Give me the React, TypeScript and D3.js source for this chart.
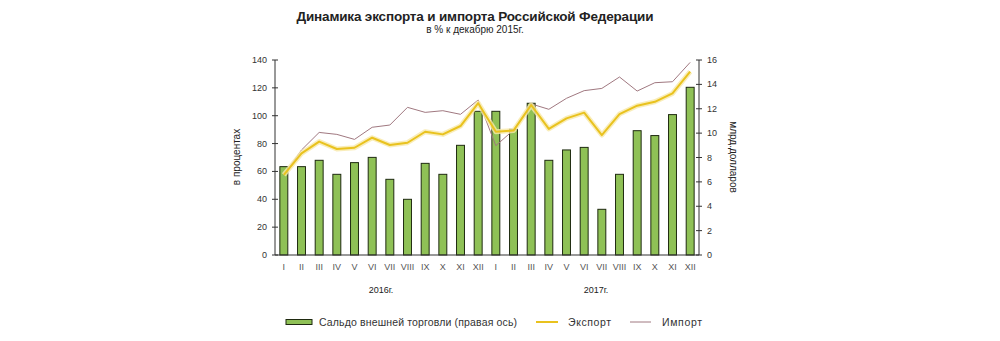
import React from "react";
import * as d3 from "d3";

const months = ["I","II","III","IV","V","VI","VII","VIII","IX","X","XI","XII","I","II","III","IV","V","VI","VII","VIII","IX","X","XI","XII"];
const years = ["2016г.", "2017г."];
const balance = [7.25,7.25,7.77,6.62,7.58,8.01,6.21,4.57,7.52,6.62,9.0,11.79,11.79,10.31,12.45,7.77,8.62,8.83,3.75,6.62,10.2,9.8,11.52,13.76];
const exportVals = [57.5,73,81.4,76.1,77,84.2,79,80.6,88.5,86.6,92.6,109,88.5,89.3,107.7,90.5,98.1,102.2,86.1,101.2,107.2,110,116,131.6];
const importVals = [57.5,75.4,88,86.6,83,91.7,93.3,106,102.4,103.6,101,111.3,78.5,89.7,108.5,104.6,112.5,118,119.6,127.8,117.7,123.7,124.4,138.3];
const leftTicks = [0,20,40,60,80,100,120,140];
const rightTicks = [0,2,4,6,8,10,12,14,16];

const FONT = "'Liberation Sans', Arial, sans-serif";

export default function App() {
  const W = 1000, H = 341;
  const x0 = 275, x1 = 699, yTop = 60, yBot = 255;
  const idx = months.map((_, i) => i);
  const x = d3.scaleBand<number>().domain(idx).range([x0, x1]).paddingInner(0.55).paddingOuter(0.275);
  const step = (x1 - x0) / months.length;
  const cx = (i: number) => (x(i) as number) + x.bandwidth() / 2;
  const yL = d3.scaleLinear().domain([0, 140]).range([yBot, yTop]);
  const yR = d3.scaleLinear().domain([0, 16]).range([yBot, yTop]);
  const lineL = d3.line<number>().x((_, i) => cx(i)).y((d) => yL(d));
  const axisColor = "#333";

  return (
    <svg width={W} height={H} style={{ position: "absolute", left: 0, top: 0, background: "#fff" }} fontFamily={FONT}>
      <text x={475} y={21} textAnchor="middle" fontSize={13.5} fontWeight="bold" fill="#222" textLength={357} lengthAdjust="spacing">Динамика экспорта и импорта Российской Федерации</text>
      <text x={475} y={33} textAnchor="middle" fontSize={10} fill="#222">в % к декабрю 2015г.</text>

      {/* bars */}
      {balance.map((v, i) => (
        <rect key={i} x={x(i)} y={yR(v)} width={x.bandwidth()} height={yBot - yR(v)}
          fill="#8fc156" stroke="#1f2a10" strokeWidth={1} />
      ))}

      {/* import line */}
      <path d={lineL(importVals) || ""} fill="none" stroke="#a07880" strokeWidth={1} />
      {/* export line with glow */}
      <path d={lineL(exportVals) || ""} fill="none" stroke="#f7e8a8" strokeWidth={5} strokeLinejoin="round" opacity={0.8} />
      <path d={lineL(exportVals) || ""} fill="none" stroke="#e9c21e" strokeWidth={2} strokeLinejoin="round" />

      {/* left axis */}
      <line x1={x0} x2={x0} y1={yTop} y2={yBot} stroke={axisColor} />
      {leftTicks.map((t) => (
        <g key={t}>
          <line x1={x0 - 3} x2={x0 + 3} y1={yL(t)} y2={yL(t)} stroke={axisColor} />
          <text x={x0 - 8} y={yL(t) + 3} textAnchor="end" fontSize={9} fill="#333">{t}</text>
        </g>
      ))}
      {/* right axis */}
      <line x1={x1} x2={x1} y1={yTop} y2={yBot} stroke={axisColor} />
      {rightTicks.map((t) => (
        <g key={t}>
          <line x1={x1 - 3} x2={x1 + 3} y1={yR(t)} y2={yR(t)} stroke={axisColor} />
          <text x={x1 + 8} y={yR(t) + 3} textAnchor="start" fontSize={9} fill="#333">{t}</text>
        </g>
      ))}
      {/* bottom axis */}
      <line x1={x0} x2={x1} y1={yBot} y2={yBot} stroke={axisColor} />
      {months.map((m, i) => (
        <text key={i} x={cx(i)} y={270} textAnchor="middle" fontSize={9} fill="#555">{m}</text>
      ))}
      {years.map((yv, k) => (
        <text key={yv} x={x0 + step * (6 + 12 * k) + (k === 0 ? 0 : 3)} y={293} textAnchor="middle" fontSize={9} fill="#222">{yv}</text>
      ))}

      <text transform={`translate(240,157) rotate(-90)`} textAnchor="middle" fontSize={10} fill="#222">в процентах</text>
      <text transform={`translate(730,157) rotate(90)`} textAnchor="middle" fontSize={10} fill="#222">млрд.долларов</text>

      {/* legend */}
      <rect x={286} y={319.5} width={26} height={5} fill="#8fc156" stroke="#1f2a10" strokeWidth={1} />
      <text x={319} y={326} fontSize={10.5} fill="#333" textLength={198} lengthAdjust="spacing">Сальдо внешней торговли (правая ось)</text>
      <line x1={536} x2={558} y1={322} y2={322} stroke="#e9c21e" strokeWidth={2} />
      <text x={568} y={326} fontSize={10.5} fill="#333" textLength={43} lengthAdjust="spacing">Экспорт</text>
      <line x1={630} x2={651} y1={322} y2={322} stroke="#a07880" strokeWidth={1} />
      <text x={662} y={326} fontSize={10.5} fill="#333" textLength={40} lengthAdjust="spacing">Импорт</text>
    </svg>
  );
}
